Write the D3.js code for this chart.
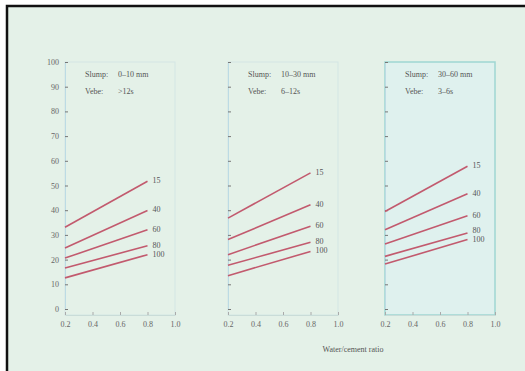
<!DOCTYPE html>
<html>
<head>
<meta charset="utf-8">
<script src="https://cdn.jsdelivr.net/npm/d3@7/dist/d3.min.js"></script>
<style>
  html, body { margin: 0; padding: 0; background: #ffffff; }
  svg { display: block; }
  text { font-family: "Liberation Serif", "DejaVu Serif", serif; }
</style>
</head>
<body>
<svg id="chart" width="525" height="371"></svg>
<script>
// Proportion of fine aggregate (%) against free water/cement ratio,
// one curve per percentage of fines passing the 600 µm sieve.
const ratios = [0.2, 0.8];
const curveNames = ["15", "40", "60", "80", "100"];
const yTicks = [0, 10, 20, 30, 40, 50, 60, 70, 80, 90, 100];
const xTicks = [0.2, 0.4, 0.6, 0.8, 1.0];

const slumpLabels = ["0–10 mm", "10–30 mm", "30–60 mm"];
const vebeLabels = [">12s", "6–12s", "3–6s"];

// fine-aggregate % at each ratio, per curve, per workability band
const panel1Values = [[33.1, 51.7], [24.7, 39.9], [20.6, 32.1], [16.6, 25.6], [12.6, 22.0]];
const panel2Values = [[36.8, 55.1], [28.1, 42.2], [22.0, 33.5], [17.7, 27.0], [13.5, 23.3]];
const panel3Values = [[39.5, 57.8], [32.1, 46.7], [26.3, 37.8], [21.3, 30.8], [18.2, 28.1]];
const panelValues = [panel1Values, panel2Values, panel3Values];

const svg = d3.select("#chart");

// page background and outer border
svg.append("rect").attr("x", 0).attr("y", 0).attr("width", 525).attr("height", 371).attr("fill", "#ffffff");
svg.append("rect").attr("x", 7).attr("y", 6).attr("width", 530).attr("height", 380)
  .attr("fill", "#e4f1e8").attr("stroke", "#111").attr("stroke-width", 2.5);

const panelLeft = [65, 228, 385];
const plotW = 110;
const plotTop = 62, zeroY = 309, axisY = 315;

const y = d3.scaleLinear().domain([0, 100]).range([zeroY, plotTop]);

panelLeft.forEach((left, p) => {
  const x = d3.scaleLinear().domain([0.2, 1.0]).range([left, left + plotW]);
  const g = svg.append("g");

  // panel frame
  const framed = p === 2;
  g.append("rect")
    .attr("x", left).attr("y", plotTop)
    .attr("width", plotW).attr("height", axisY - plotTop)
    .attr("fill", framed ? "#dff1ee" : "none")
    .attr("stroke", framed ? "#9fd6d2" : "#d3e6e4")
    .attr("stroke-width", framed ? 1.5 : 1);

  // y axis (labels on the first panel only)
  const yAxis = d3.axisLeft(y).tickValues(yTicks).tickSizeInner(-3).tickSizeOuter(0).tickPadding(6)
    .tickFormat(p === 0 ? d3.format("d") : () => "");
  const ya = g.append("g").attr("transform", `translate(${left},0)`).call(yAxis);
  ya.select(".domain").attr("stroke", "#bcdbe4");
  ya.selectAll(".tick line").attr("stroke", "#777");
  ya.selectAll(".tick text").attr("fill", "#666").style("font-size", "8px");

  // x axis
  const xAxis = d3.axisBottom(x).tickValues(xTicks).tickSizeInner(-3).tickSizeOuter(0).tickPadding(6)
    .tickFormat(d3.format(".1f"));
  const xa = g.append("g").attr("transform", `translate(0,${axisY})`).call(xAxis);
  xa.select(".domain").attr("stroke", "#c9dcd8");
  xa.selectAll(".tick line").attr("stroke", "#aaa");
  xa.selectAll(".tick text").attr("fill", "#666").style("font-size", "8px");

  // workability description
  g.append("text").attr("x", left + 20).attr("y", 77).attr("fill", "#555").style("font-size", "8px").text("Slump:");
  g.append("text").attr("x", left + 53).attr("y", 77).attr("fill", "#555").style("font-size", "8px").text(slumpLabels[p]);
  g.append("text").attr("x", left + 20).attr("y", 94).attr("fill", "#555").style("font-size", "8px").text("Vebe:");
  g.append("text").attr("x", left + 53).attr("y", 94).attr("fill", "#555").style("font-size", "8px").text(vebeLabels[p]);

  // curves
  const line = d3.line().x((d, i) => x(ratios[i])).y(d => y(d));
  const series = panelValues[p];
  series.forEach(vals => {
    g.append("path").attr("d", line(vals))
      .attr("fill", "none").attr("stroke", "#c25a6e").attr("stroke-width", 1.6);
  });

  // end labels, nudged apart where curves finish close together
  const labelY = series.map(vals => y(vals[vals.length - 1]) + 2);
  for (let k = labelY.length - 2; k >= 0; k--) {
    if (labelY[k] > labelY[k + 1] - 8.5) labelY[k] = labelY[k + 1] - 8.5;
  }
  series.forEach((vals, k) => {
    g.append("text")
      .attr("x", x(ratios[ratios.length - 1]) + 5)
      .attr("y", labelY[k])
      .attr("fill", "#555").style("font-size", "8px")
      .text(curveNames[k]);
  });
});

svg.append("text").attr("x", 353).attr("y", 352).attr("text-anchor", "middle")
  .attr("fill", "#555").style("font-size", "8px").text("Water/cement ratio");
</script>
</body>
</html>
